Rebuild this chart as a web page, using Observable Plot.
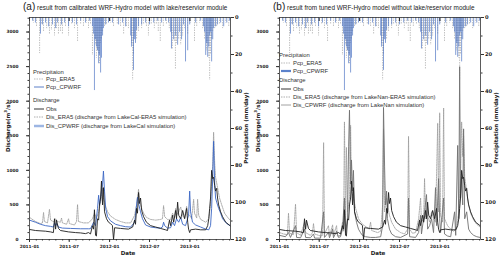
<!DOCTYPE html>
<html><head><meta charset="utf-8">
<script src="https://cdn.jsdelivr.net/npm/d3@7"></script>
<script src="https://cdn.jsdelivr.net/npm/@observablehq/plot@0.6"></script>
<style>
body{margin:0;background:#fff;}
#root{position:relative;width:500px;height:260px;overflow:hidden;font-family:"Liberation Sans",Arial,sans-serif;color:#222;}
.layer{position:absolute;top:0;}
.title{position:absolute;top:1px;font-size:6.4px;white-space:nowrap;line-height:12px;}
.title span{font-size:10px;}
.lab{position:absolute;font-family:"DejaVu Sans",sans-serif;font-weight:bold;font-size:5.5px;white-space:nowrap;}
.rot{transform:translate(-50%,-50%) rotate(-90deg);}
.leg{position:absolute;font-size:5.9px;white-space:nowrap;line-height:7px;color:#333;}
.leg svg{vertical-align:middle;margin-right:2px;}
</style></head><body><div id="root"></div><script>
// ---------- DATA ----------
const xTickLabels = ["2011-01","2011-07","2012-01","2012-07","2013-01"];
const dischargeTicks = [0,500,1000,1500,2000,2500,3000];
const precipTicks = [0,20,40,60,80,100,120];

// Observed discharge (m3/s)
const obs = [["2011-01-01",145],["2011-01-28",130],["2011-03-15",120],["2011-04-07",110],["2011-04-20",100],["2011-04-25",300],["2011-04-30",150],["2011-05-04",280],["2011-05-13",160],["2011-05-22",130],["2011-06-28",110],["2011-07-30",100],["2011-08-22",95],["2011-09-13",85],["2011-09-27",100],["2011-10-06",80],["2011-10-15",200],["2011-10-20",150],["2011-10-24",430],["2011-10-29",60],["2011-11-02",50],["2011-11-07",300],["2011-11-12",280],["2011-11-16",500],["2011-11-21",600],["2011-11-25",845],["2011-11-30",500],["2011-12-04",750],["2011-12-09",400],["2011-12-18",300],["2011-12-27",250],["2012-01-05",230],["2012-01-14",200],["2012-01-19",0],["2012-01-24",170],["2012-02-20",160],["2012-03-27",150],["2012-04-15",180],["2012-04-24",280],["2012-04-28",220],["2012-05-03",450],["2012-05-07",380],["2012-05-12",680],["2012-05-16",520],["2012-05-21",600],["2012-05-26",420],["2012-06-04",330],["2012-06-17",250],["2012-07-06",200],["2012-07-29",180],["2012-08-20",160],["2012-09-12",140],["2012-09-21",130],["2012-09-30",280],["2012-10-05",200],["2012-10-14",350],["2012-10-19",250],["2012-10-28",420],["2012-11-01",300],["2012-11-06",540],["2012-11-11",350],["2012-11-20",300],["2012-11-29",420],["2012-12-08",300],["2012-12-17",450],["2012-12-22",250],["2012-12-26",150],["2012-12-31",100],["2013-01-04",140],["2013-01-27",150],["2013-02-19",140],["2013-03-14",140],["2013-03-23",200],["2013-03-28",300],["2013-04-01",450],["2013-04-05",600],["2013-04-10",1000],["2013-04-15",880],["2013-04-19",900],["2013-04-24",780],["2013-04-28",700],["2013-05-03",740],["2013-05-07",600],["2013-05-12",500],["2013-05-21",400],["2013-05-30",330],["2013-06-13",250],["2013-07-03",200]];

// Panel (a): LakeCal simulations
const disCpwrfA = [["2011-01-01",280],["2011-01-28",250],["2011-02-20",220],["2011-03-15",200],["2011-04-07",190],["2011-04-20",180],["2011-04-25",240],["2011-04-30",200],["2011-05-04",230],["2011-05-13",180],["2011-05-31",165],["2011-07-07",160],["2011-08-22",155],["2011-09-27",155],["2011-10-06",155],["2011-10-20",250],["2011-10-29",200],["2011-11-07",450],["2011-11-12",640],["2011-11-16",500],["2011-11-25",700],["2011-11-30",800],["2011-12-04",990],["2011-12-09",700],["2011-12-14",450],["2011-12-23",330],["2012-01-05",270],["2012-01-28",220],["2012-02-20",200],["2012-03-14",185],["2012-04-06",180],["2012-04-24",250],["2012-04-28",350],["2012-05-03",500],["2012-05-07",610],["2012-05-12",520],["2012-05-21",400],["2012-05-30",300],["2012-06-13",210],["2012-07-06",180],["2012-07-29",170],["2012-08-20",165],["2012-08-29",180],["2012-09-03",250],["2012-09-08",200],["2012-09-21",165],["2012-10-05",170],["2012-10-14",250],["2012-10-23",200],["2012-11-01",300],["2012-11-11",250],["2012-11-20",320],["2012-11-29",220],["2012-12-12",200],["2012-12-26",350],["2012-12-31",700],["2013-01-04",400],["2013-01-13",250],["2013-01-27",210],["2013-02-19",180],["2013-03-14",150],["2013-03-28",140],["2013-04-05",200],["2013-04-10",450],["2013-04-15",900],["2013-04-19",1420],["2013-04-24",800],["2013-04-28",600],["2013-05-03",540],["2013-05-12",450],["2013-05-21",380],["2013-05-30",300],["2013-06-18",230],["2013-07-03",200]];
const disEra5A = [["2011-01-01",320],["2011-01-28",260],["2011-02-20",230],["2011-03-01",240],["2011-03-06",390],["2011-03-10",260],["2011-03-24",240],["2011-04-02",435],["2011-04-07",280],["2011-04-25",250],["2011-04-30",300],["2011-05-09",260],["2011-05-22",250],["2011-05-27",310],["2011-05-31",240],["2011-06-19",220],["2011-06-28",300],["2011-07-02",230],["2011-07-25",210],["2011-08-03",260],["2011-08-08",505],["2011-08-12",260],["2011-09-04",240],["2011-09-27",240],["2011-10-15",300],["2011-10-24",380],["2011-11-02",300],["2011-11-12",400],["2011-11-21",550],["2011-11-30",740],["2011-12-04",600],["2011-12-14",480],["2011-12-23",400],["2012-01-05",340],["2012-01-28",290],["2012-02-20",260],["2012-03-14",240],["2012-04-06",240],["2012-04-24",350],["2012-05-03",500],["2012-05-12",725],["2012-05-16",560],["2012-05-26",450],["2012-06-04",380],["2012-06-17",320],["2012-07-06",290],["2012-07-29",280],["2012-08-20",290],["2012-08-29",300],["2012-09-03",490],["2012-09-08",330],["2012-09-21",290],["2012-10-05",290],["2012-10-14",380],["2012-10-23",320],["2012-10-28",450],["2012-11-01",350],["2012-11-11",400],["2012-11-20",470],["2012-11-29",340],["2012-12-08",310],["2012-12-17",480],["2012-12-22",360],["2012-12-31",350],["2013-01-09",300],["2013-01-18",580],["2013-01-22",380],["2013-02-01",310],["2013-02-05",580],["2013-02-10",350],["2013-02-19",290],["2013-03-14",250],["2013-03-28",300],["2013-04-05",500],["2013-04-10",800],["2013-04-15",1100],["2013-04-19",1550],["2013-04-24",1100],["2013-04-28",900],["2013-05-07",750],["2013-05-16",600],["2013-05-26",500],["2013-06-08",380],["2013-06-22",320],["2013-07-03",280]];

// Panel (b): LakeNan simulations
const disEra5B = [["2011-01-01",100],["2011-01-19",80],["2011-02-06",70],["2011-02-11",380],["2011-02-16",90],["2011-03-06",70],["2011-03-15",510],["2011-03-20",100],["2011-04-07",60],["2011-04-25",250],["2011-04-30",100],["2011-05-22",60],["2011-05-31",100],["2011-06-05",230],["2011-06-10",80],["2011-07-07",50],["2011-07-16",60],["2011-07-21",1400],["2011-07-25",80],["2011-08-12",200],["2011-08-17",60],["2011-08-31",210],["2011-09-04",60],["2011-09-18",200],["2011-09-22",50],["2011-10-06",60],["2011-10-15",250],["2011-10-20",120],["2011-10-24",1700],["2011-10-29",200],["2011-11-02",1330],["2011-11-07",400],["2011-11-16",600],["2011-11-21",1650],["2011-11-25",700],["2011-12-04",600],["2011-12-14",450],["2011-12-27",300],["2012-01-14",220],["2012-02-01",180],["2012-02-14",150],["2012-02-20",250],["2012-02-25",130],["2012-03-23",100],["2012-04-06",120],["2012-04-15",500],["2012-04-19",1600],["2012-04-24",400],["2012-05-03",600],["2012-05-07",500],["2012-05-16",350],["2012-05-26",250],["2012-06-13",150],["2012-07-06",100],["2012-07-24",80],["2012-08-07",150],["2012-08-11",1490],["2012-08-16",150],["2012-08-29",90],["2012-09-12",100],["2012-09-26",300],["2012-10-05",600],["2012-10-09",250],["2012-10-19",300],["2012-10-23",880],["2012-10-28",300],["2012-11-06",350],["2012-11-15",250],["2012-11-24",400],["2012-12-03",300],["2012-12-12",250],["2012-12-22",1680],["2012-12-26",400],["2012-12-31",1830],["2013-01-04",350],["2013-01-13",250],["2013-01-18",1900],["2013-01-22",300],["2013-02-05",200],["2013-02-19",150],["2013-03-04",120],["2013-03-18",150],["2013-03-28",400],["2013-04-01",600],["2013-04-05",900],["2013-04-10",1700],["2013-04-15",1200],["2013-04-19",1500],["2013-04-24",900],["2013-05-03",700],["2013-05-12",500],["2013-05-21",380],["2013-06-04",280],["2013-06-18",220],["2013-07-03",180]];
const disCpwrfB = [["2011-01-01",60],["2011-01-28",40],["2011-02-11",100],["2011-02-20",30],["2011-03-15",200],["2011-03-20",30],["2011-04-07",25],["2011-04-25",150],["2011-04-30",30],["2011-05-22",25],["2011-06-05",80],["2011-06-10",20],["2011-07-07",20],["2011-07-21",400],["2011-07-25",30],["2011-08-12",100],["2011-08-17",25],["2011-08-31",150],["2011-09-04",25],["2011-09-18",120],["2011-09-27",30],["2011-10-06",40],["2011-10-15",150],["2011-10-24",600],["2011-10-29",100],["2011-11-07",300],["2011-11-12",1350],["2011-11-16",1870],["2011-11-21",800],["2011-11-25",1150],["2011-11-30",700],["2011-12-04",1000],["2011-12-09",400],["2011-12-18",250],["2011-12-27",150],["2012-01-05",100],["2012-01-14",60],["2012-01-28",40],["2012-02-20",30],["2012-03-14",30],["2012-04-06",40],["2012-04-15",200],["2012-04-19",1910],["2012-04-24",1050],["2012-04-28",500],["2012-05-03",700],["2012-05-07",300],["2012-05-16",150],["2012-05-26",80],["2012-06-13",40],["2012-07-06",30],["2012-08-07",80],["2012-08-11",600],["2012-08-16",40],["2012-09-12",30],["2012-09-26",100],["2012-10-05",350],["2012-10-09",80],["2012-10-23",400],["2012-11-01",650],["2012-11-06",150],["2012-11-15",200],["2012-11-24",300],["2012-12-03",100],["2012-12-12",750],["2012-12-17",200],["2012-12-26",880],["2012-12-31",300],["2013-01-04",100],["2013-01-18",600],["2013-01-22",80],["2013-02-05",50],["2013-02-19",40],["2013-03-09",400],["2013-03-14",60],["2013-03-23",1360],["2013-03-28",300],["2013-04-01",2500],["2013-04-05",600],["2013-04-10",900],["2013-04-15",500],["2013-04-19",1600],["2013-04-24",300],["2013-05-03",400],["2013-05-12",150],["2013-05-21",100],["2013-06-04",60],["2013-06-18",40],["2013-07-03",30]];

// Precipitation (mm/day)
const pcpEra5 = [["2011-01-19",3],["2011-02-02",5],["2011-02-16",19.5],["2011-02-25",4],["2011-03-06",8],["2011-03-20",6],["2011-04-02",9],["2011-04-11",7],["2011-04-25",10],["2011-05-04",6],["2011-05-13",9],["2011-05-22",8],["2011-05-31",9],["2011-06-14",5],["2011-06-28",10],["2011-07-12",4],["2011-07-25",6],["2011-08-08",13],["2011-08-22",4],["2011-09-04",5],["2011-09-18",3],["2011-09-27",6],["2011-10-06",4],["2011-10-15",20.5],["2011-10-24",12],["2011-10-29",15],["2011-11-02",22],["2011-11-07",18],["2011-11-12",19.5],["2011-11-16",25],["2011-11-21",14],["2011-11-25",12],["2011-11-30",8],["2011-12-09",5],["2011-12-18",4],["2012-01-05",3],["2012-01-19",5],["2012-02-05",4],["2012-02-20",5],["2012-03-05",9],["2012-03-18",5],["2012-03-27",6],["2012-04-10",14],["2012-04-15",34],["2012-04-19",20],["2012-04-24",10],["2012-05-03",12],["2012-05-12",8],["2012-05-26",6],["2012-06-04",4],["2012-06-17",5],["2012-06-26",10],["2012-07-09",4],["2012-07-23",6],["2012-08-01",4],["2012-08-10",8],["2012-08-19",13],["2012-09-02",5],["2012-09-16",4],["2012-09-29",6],["2012-10-09",9],["2012-10-13",17],["2012-10-22",13],["2012-10-27",28],["2012-11-01",14],["2012-11-11",12],["2012-11-20",15],["2012-11-29",10],["2012-12-08",6],["2012-12-22",9],["2013-01-04",3],["2013-01-22",13],["2013-02-01",5],["2013-02-14",3],["2013-02-28",6],["2013-03-09",12],["2013-03-18",18],["2013-03-23",14],["2013-03-28",22],["2013-04-01",34],["2013-04-05",20],["2013-04-10",12],["2013-04-15",8],["2013-04-24",6],["2013-05-03",5],["2013-05-16",4],["2013-05-30",6],["2013-06-13",3],["2013-06-27",5]];
const pcpCpwrf = [["2011-01-15",2],["2011-01-28",3],["2011-02-20",9],["2011-03-01",4],["2011-03-15",3],["2011-03-29",5],["2011-04-16",4],["2011-04-30",6],["2011-05-09",3],["2011-05-27",4],["2011-06-10",3],["2011-06-28",5],["2011-07-16",3],["2011-08-03",4],["2011-08-22",2],["2011-09-13",3],["2011-10-02",2],["2011-10-15",5],["2011-10-20",9],["2011-10-24",39.5],["2011-10-29",12],["2011-11-02",16],["2011-11-07",18],["2011-11-12",25],["2011-11-16",20.5],["2011-11-21",30],["2011-11-25",22],["2011-11-30",10],["2011-12-04",6],["2011-12-14",4],["2011-12-27",3],["2012-01-14",3],["2012-02-11",4],["2012-02-29",3],["2012-03-14",5],["2012-04-06",10],["2012-04-10",16],["2012-04-19",28.6],["2012-04-24",12],["2012-04-28",14],["2012-05-03",7],["2012-05-12",5],["2012-05-26",4],["2012-06-13",3],["2012-07-01",4],["2012-07-20",3],["2012-08-07",2],["2012-08-25",3],["2012-09-12",2],["2012-09-26",3],["2012-10-05",8],["2012-10-09",17],["2012-10-19",12],["2012-10-28",10],["2012-11-06",15],["2012-11-15",8],["2012-11-24",12],["2012-12-03",4],["2012-12-12",24],["2012-12-22",18],["2012-12-31",4],["2013-01-27",3],["2013-02-19",2],["2013-03-04",5],["2013-03-09",8],["2013-03-14",20.5],["2013-03-18",14],["2013-03-23",21.5],["2013-03-28",16],["2013-04-01",10],["2013-04-05",8],["2013-04-10",24],["2013-04-15",12],["2013-04-19",6],["2013-04-28",5],["2013-05-07",4],["2013-05-21",3],["2013-06-04",5],["2013-06-18",3],["2013-07-01",2]];

// ---------- DRAW ----------
const toRows = arr => arr.map(([d, v]) => ({date: new Date(d), v}));
const xDomain = [new Date("2011-01-01"), new Date("2013-07-05")];
const parseMonth = d3.utcParse("%Y-%m");
const xMajor = xTickLabels.map(parseMonth);
const xMinor = d3.utcMonth.range(xDomain[0], xDomain[1]);
const M = {width: 250, height: 260, marginLeft: 29, marginRight: 20, marginTop: 17, marginBottom: 21};
const baseStyle = {background: "transparent", fontFamily: "DejaVu Sans, sans-serif", fontSize: "4.3px", fontWeight: "bold", color: "#222", overflow: "visible"};

function precipPlot() {
  return Plot.plot({
    ...M, style: baseStyle,
    x: {type: "utc", domain: xDomain, axis: null},
    y: {domain: [0, 120], reverse: true},
    marks: [
      Plot.ruleX(toRows(pcpEra5), {x: "date", y1: 0, y2: "v", stroke: "#a9a9a9", strokeWidth: 0.7, strokeDasharray: "1.5,1"}),
      Plot.ruleX(toRows(pcpCpwrf), {x: "date", y1: 0, y2: "v", stroke: "#4a72c2", strokeWidth: 0.8, strokeOpacity: 0.85}),
      Plot.axisY({anchor: "right", ticks: d3.range(0, 121, 10), tickFormat: () => "", tickSize: 1.5, label: null, stroke: "#333"}),
      Plot.axisY({anchor: "right", ticks: precipTicks, tickSize: 3, tickPadding: 1.5, label: null, fontSize: 5.2, stroke: "#333"})
    ]
  });
}

function dischargePlot(lines) {
  return Plot.plot({
    ...M, style: baseStyle,
    x: {type: "utc", domain: xDomain},
    y: {domain: [0, 3210]},
    marks: [
      ...lines,
      Plot.frame({stroke: "#333", strokeWidth: 0.8}),
      Plot.axisX({ticks: xMinor, tickFormat: () => "", tickSize: 1.5, label: null, stroke: "#333"}),
      Plot.axisX({ticks: xMajor, tickFormat: d3.utcFormat("%Y-%m"), tickSize: 3, tickPadding: 2, label: null, stroke: "#333"}),
      Plot.axisX({anchor: "top", ticks: xMajor, tickFormat: () => "", tickSize: -3, label: null, stroke: "#333"}),
      Plot.axisY({ticks: d3.range(0, 3201, 100), tickFormat: () => "", tickSize: 1.5, label: null, stroke: "#333"}),
      Plot.axisY({ticks: dischargeTicks, tickFormat: d3.format("d"), tickSize: 3, tickPadding: 8, label: null, stroke: "#333"})
    ]
  });
}

const root = document.getElementById("root");
function place(node, left) { node.classList.add("layer"); node.style.left = left + "px"; root.appendChild(node); }

// panel a
place(precipPlot(), 0);
place(dischargePlot([
  Plot.line(toRows(disEra5A), {x: "date", y: "v", stroke: "#9a9a9a", strokeWidth: 0.8, strokeDasharray: "1.5,1"}),
  Plot.line(toRows(disCpwrfA), {x: "date", y: "v", stroke: "#3b67c4", strokeWidth: 0.9}),
  Plot.line(toRows(obs), {x: "date", y: "v", stroke: "#1e1e1e", strokeWidth: 0.9})
]), 0);
// panel b
place(precipPlot(), 250);
place(dischargePlot([
  Plot.line(toRows(disEra5B), {x: "date", y: "v", stroke: "#9a9a9a", strokeWidth: 0.8, strokeDasharray: "1.5,1"}),
  Plot.line(toRows(disCpwrfB), {x: "date", y: "v", stroke: "#707070", strokeWidth: 0.9}),
  Plot.line(toRows(obs), {x: "date", y: "v", stroke: "#1e1e1e", strokeWidth: 0.9})
]), 250);

function addDiv(cls, html, style) {
  const d = document.createElement("div"); d.className = cls; d.innerHTML = html;
  Object.assign(d.style, style); root.appendChild(d); return d;
}
// titles
addDiv("title", "<span>(a)</span> result from calibrated WRF-Hydro model with lake/reservior module", {left: "23px"});
addDiv("title", "<span>(b)</span> result from tuned WRF-Hydro model without lake/reservior module", {left: "273px"});
// axis labels
for (const off of [0, 250]) {
  addDiv("lab rot", "Discharge(m<sup style='font-size:4px'>3</sup>/s)", {left: (7 + off) + "px", top: "127px"});
  addDiv("lab rot", "Precipitation (mm/day)", {left: (246 + off) + "px", top: "128px"});
  addDiv("lab", "Date", {left: (128 + off) + "px", top: "253px", transform: "translate(-50%,-50%)"});
}
// legends
function sw(stroke, w, dash) {
  return `<svg width="10" height="4"><line x1="0" y1="2" x2="10" y2="2" stroke="${stroke}" stroke-width="${w}" ${dash ? `stroke-dasharray="${dash}"` : ""}/></svg>`;
}
function legend(rows, hx, ix) {
  for (const r of rows) {
    if (r.h) addDiv("leg", r.h, {left: hx + "px", top: (r.y - 3.5) + "px"});
    else addDiv("leg", sw(r.s, r.w, r.d) + r.t, {left: ix + "px", top: (r.y - 3.5) + "px"});
  }
}
legend([
  {h: "Precipitaion", y: 72},
  {s: "#a9a9a9", w: 0.8, d: "1.5,1", t: "Pcp_ERA5", y: 79.5},
  {s: "#4a72c2", w: 0.9, t: "Pcp_CPWRF", y: 87.5},
  {h: "Discharge", y: 100.5},
  {s: "#1e1e1e", w: 0.9, t: "Obs", y: 109},
  {s: "#9a9a9a", w: 0.8, d: "1.5,1", t: "Dis_ERA5 (discharge from LakeCal-ERA5 simulation)", y: 117.5},
  {s: "#9db6e3", w: 2.5, t: "Dis_CPWRF (discharge from LakeCal simulation)", y: 126}
], 33, 34);
legend([
  {h: "Precipitaion", y: 55},
  {s: "#a9a9a9", w: 0.8, d: "1.5,1", t: "Pcp_ERA5", y: 63},
  {s: "#5b82cc", w: 2.2, t: "Pcp_CPWRF", y: 71},
  {h: "Discharge", y: 80},
  {s: "#1e1e1e", w: 0.9, t: "Obs", y: 89},
  {s: "#9a9a9a", w: 0.8, d: "1.5,1", t: "Dis_ERA5 (discharge from LakeNan-ERA5 simulation)", y: 97},
  {s: "#8a8a8a", w: 0.8, t: "Dis_CPWRF (discharge from LakeNan simulation)", y: 105}
], 279, 281);
</script></body></html>
